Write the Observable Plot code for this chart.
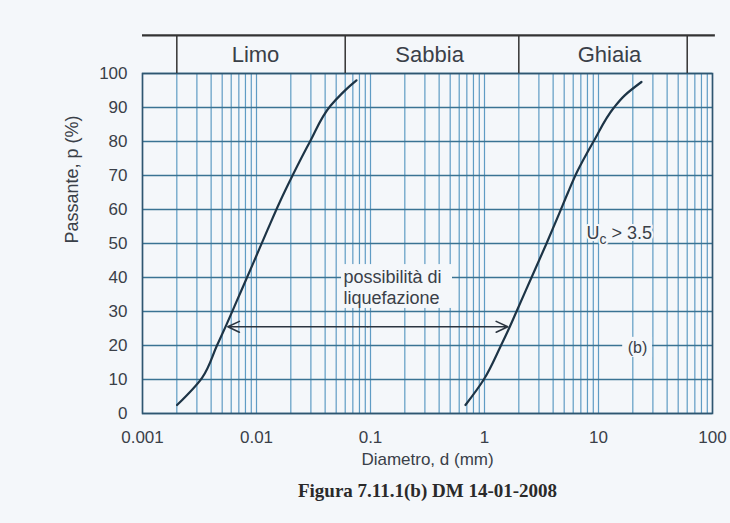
<!DOCTYPE html>
<html>
<head>
<meta charset="utf-8">
<script src="https://cdn.jsdelivr.net/npm/d3@7"></script>
<script src="https://cdn.jsdelivr.net/npm/@observablehq/plot@0.6"></script>
<style>
  html, body { margin: 0; padding: 0; background: #f4f7fa; }
  #chart svg { display: block; }
</style>
</head>
<body>
<div id="chart"></div>
<script>
// ---- data ----
const xTicks = [0.001, 0.01, 0.1, 1, 10, 100];
const yTicks = [0, 10, 20, 30, 40, 50, 60, 70, 80, 90, 100];

// soil classes (boundaries in mm) and labels
const zoneBounds = [0.002, 0.06, 2, 60];
const zoneNames = ["Limo", "Sabbia", "Ghiaia"];
const zoneLabelX = [0.0098, 0.33, 12.5];

// lower (fine) limit curve
const fineD = [0.00201, 0.00333, 0.00450, 0.00543, 0.00690, 0.00930, 0.01249, 0.0159, 0.0207, 0.0295, 0.0446, 0.0557, 0.0668, 0.0753];
const fineP = [2.5, 10.5, 20, 26, 34, 44, 54, 62, 70, 80, 90.5, 94, 96.5, 98];
// upper (coarse) limit curve
const coarseD = [0.681, 0.986, 1.395, 1.640, 1.909, 2.584, 3.499, 4.549, 5.40, 6.477, 9.04, 13.68, 16.9, 23.8];
const coarseP = [2.5, 10, 20, 25, 30, 40, 50, 59, 65, 71, 80, 90, 93.5, 97.5];

// "possibilità di liquefazione" arrow
const arrowFrom = 0.0056, arrowTo = 1.6, arrowP = 25.5;

// labels
const headerTop = 111.2;   // header band top, in % units above the plot
const headerLabelP = 105.6;
const noteText = "possibilità di\nliquefazione";
const noteAt = {x: 0.058, y: 37.2};
const noteBox = {x1: 0.0557, x2: 0.524, y1: 30.9, y2: 43.8};
const ucAt = {x: 7.85, y: 52.9};
const bAt = {x: 22, y: 19.3};
const bBox = {x1: 16.3, x2: 29.8, y1: 16.5, y2: 22.4};

// ---- build ----
const fine = fineD.map((d, i) => ({d, p: fineP[i]}));
const coarse = coarseD.map((d, i) => ({d, p: coarseP[i]}));
const gridXValues = d3.scaleLog().domain([xTicks[0], xTicks[xTicks.length - 1]]).ticks();
const mid = Math.sqrt(arrowFrom * arrowTo);
const arrows = [{x1: mid, x2: arrowFrom}, {x1: mid, x2: arrowTo}];

const ink = "#2b3540";
const textInk = "#3a4048";
const bg = "#f4f7fa";

const chart = Plot.plot({
  width: 730,
  height: 523,
  marginTop: 73,
  marginBottom: 110,
  marginLeft: 142,
  marginRight: 18,
  style: {background: bg, fontFamily: "'Liberation Sans', Arial, sans-serif", fontSize: "17px", color: textInk},
  x: {type: "log", domain: [0.001, 100]},
  y: {domain: [0, 100]},
  marks: [
    Plot.gridX(gridXValues, {stroke: "#5f9cc4", strokeOpacity: 1, strokeWidth: 1.2}),
    Plot.gridY(yTicks, {stroke: "#3a7393", strokeOpacity: 1, strokeWidth: 1.7}),
    Plot.rect([noteBox], {x1: "x1", x2: "x2", y1: "y1", y2: "y2", fill: bg}),
    Plot.rect([bBox], {x1: "x1", x2: "x2", y1: "y1", y2: "y2", fill: bg}),
    Plot.frame({stroke: "#2f5670", strokeWidth: 1.6}),
    // header band
    Plot.ruleX(zoneBounds, {y1: 100, y2: headerTop, stroke: "#333", strokeWidth: 1.5}),
    Plot.ruleY([headerTop], {x1: 0.001, x2: 106, stroke: "#333", strokeWidth: 2.2}),
    Plot.text(zoneNames, {x: zoneLabelX, y: headerLabelP, text: d => d, fontSize: 22, fill: textInk}),
    // axes
    Plot.axisY({ticks: yTicks, tickSize: 0, tickPadding: 15, label: null, fontSize: 17}),
    Plot.axisX({ticks: xTicks, tickFormat: d => String(d), tickSize: 0, tickPadding: 17, label: null, fontSize: 17}),
    // curves
    Plot.line(fine, {x: "d", y: "p", curve: "monotone-y", stroke: "#1d3446", strokeWidth: 2.2}),
    Plot.line(coarse, {x: "d", y: "p", curve: "monotone-y", stroke: "#1d3446", strokeWidth: 2.2}),
    // arrow
    Plot.arrow(arrows, {x1: "x1", x2: "x2", y1: arrowP, y2: arrowP, stroke: ink, strokeWidth: 1.6, headLength: 12, headAngle: 50}),
    // annotations
    Plot.text([noteText], {x: noteAt.x, y: noteAt.y, textAnchor: "start", fontSize: 18, lineHeight: 1.15, fill: textInk}),
    Plot.text(["U"], {x: ucAt.x, y: ucAt.y, textAnchor: "start", fontSize: 18, fill: textInk, stroke: bg, strokeWidth: 4}),
    Plot.text(["c"], {x: ucAt.x, y: ucAt.y, textAnchor: "start", dx: 13, dy: 6, fontSize: 14, fill: textInk, stroke: bg, strokeWidth: 4}),
    Plot.text(["> 3.5"], {x: ucAt.x, y: ucAt.y, textAnchor: "start", dx: 25, fontSize: 18, fill: textInk, stroke: bg, strokeWidth: 4}),
    Plot.text(["(b)"], {x: bAt.x, y: bAt.y, fontSize: 16, fill: textInk}),
    // titles
    Plot.text(["Diametro, d (mm)"], {frameAnchor: "bottom", dy: 51, fontSize: 17, fill: textInk}),
    Plot.text(["Passante, p (%)"], {frameAnchor: "left", dx: -70, rotate: -90, fontSize: 18, fill: textInk}),
    Plot.text(["Figura 7.11.1(b) DM 14-01-2008"], {frameAnchor: "bottom", dy: 83, fontSize: 19, fontWeight: "bold", fontFamily: "'Liberation Serif', 'Times New Roman', serif", fill: "#2a2a2a"})
  ]
});
document.getElementById("chart").append(chart);
</script>
</body>
</html>
